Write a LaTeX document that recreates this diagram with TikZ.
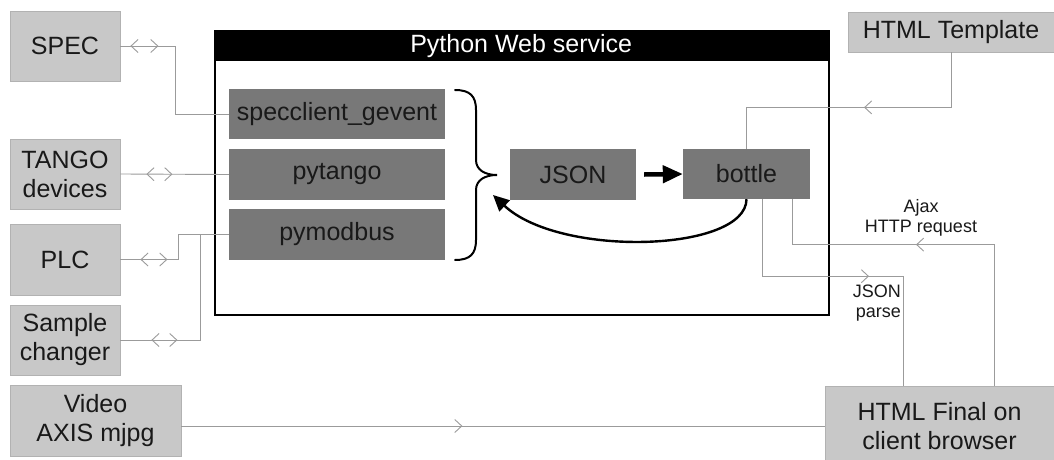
\documentclass[tikz,border=0pt]{standalone}
\usepackage{fontspec}
\setmainfont{Liberation Sans}
\usetikzlibrary{arrows.meta,decorations.markings}
\definecolor{lbox}{RGB}{200,200,200}
\definecolor{lboxedge}{RGB}{178,178,178}
\definecolor{dbox}{RGB}{120,120,120}
\definecolor{connc}{RGB}{155,155,155}
\tikzset{
  lightbox/.style={draw=lboxedge, line width=0.8pt, fill=lbox, align=center, inner sep=0pt,
    font=\fontsize{25}{29}\selectfont, text=black!90},
  darkbox/.style={fill=dbox, align=center, inner sep=0pt,
    font=\fontsize{25}{29}\selectfont, text=black!90},
  conn/.style={draw=connc, line width=0.9pt},
  chev/.tip={Straight Barb[length=7pt,width=13pt,line width=0.9pt]},
  bidi/.style 2 args={postaction={decorate}, decoration={markings,
    mark=at position #1 with {\arrowreversed[connc]{chev}},
    mark=at position #2 with {\arrow[connc]{chev}}}},
  fwd/.style={postaction={decorate}, decoration={markings,
    mark=at position #1 with {\arrow[connc]{chev}}}},
  smalllabel/.style={font=\fontsize{18}{20}\selectfont, inner sep=0pt, text=black!90},
}
\begin{document}
\begin{tikzpicture}[x=1pt,y=-1pt]
\useasboundingbox[fill=white] (0,0) rectangle (1054,460);

% outer devices
\node[lightbox, minimum width=110pt, minimum height=70pt] (spec) at (65,46) {SPEC};
\node[lightbox, minimum width=110pt, minimum height=70pt] (tango) at (65,174) {TANGO\\devices};
\node[lightbox, minimum width=110pt, minimum height=71pt] (plc) at (65,259.5) {PLC};
\node[lightbox, minimum width=110pt, minimum height=70pt] (sample) at (65,340) {Sample\\changer};
\node[lightbox, minimum width=171pt, minimum height=71pt] (video) at (95.5,420.5) {Video\\AXIS mjpg};
\node[lightbox, minimum width=206pt, minimum height=40pt] (tmpl) at (951,32) {HTML Template};
\node[lightbox, minimum width=229pt, minimum height=80pt] (final) at (939.5,426) {HTML Final on\\client browser};

% web service frame
\node[draw=black, line width=2pt, minimum width=614pt, minimum height=284pt, anchor=north west, inner sep=0pt] (frame) at (214,30) {};
\node[fill=black, text=white, minimum width=614pt, minimum height=31pt, anchor=north west, inner sep=0pt,
  font=\fontsize{25}{29}\selectfont] (hdr) at (214,30) {Python Web service};

% inner modules
\node[darkbox, minimum width=216pt, minimum height=50pt] (sg) at (337,114) {specclient\_gevent};
\node[darkbox, minimum width=216pt, minimum height=51pt] (pt) at (337,174.5) {pytango};
\node[darkbox, minimum width=216pt, minimum height=51pt] (pm) at (337,234.5) {pymodbus};
\node[darkbox, minimum width=126pt, minimum height=51pt] (json) at (573,174.5) {JSON};
\node[darkbox, minimum width=127pt, minimum height=50pt] (bottle) at (746.5,174) {bottle};

% brace
\draw[line width=2pt, line cap=round] (455,90) .. controls (470,90) and (476,96) .. (476,110)
  -- (476,160) .. controls (476,170) and (485,175) .. (497,175)
  .. controls (485,175) and (476,180) .. (476,190)
  -- (476,240) .. controls (476,254) and (470,260) .. (455,260);

% internal arrows
\draw[line width=4.5pt, -{Triangle[length=20pt,width=17pt]}] ([xshift=8pt]json.east) -- (bottle.west);
\draw[line width=2.4pt, -{Triangle[length=16pt,width=15pt]}] (bottle.south)
  .. controls (746,252) and (560,258) .. (493,195);

% connectors to outside devices
\draw[conn, bidi={10pt}{38pt}] (spec.east) -- ++(55,0) |- (sg.west);
\draw[conn, bidi={26pt}{52pt}] (tango.east) -- (pt.west);
\draw[conn, bidi={20pt}{47pt}] (plc.east) -- ++(58,0) |- (pm.west);
\draw[conn, bidi={31pt}{57pt}] (sample.east) -- ++(80,0) |- (pm.west);
\draw[conn, fwd=281pt] (video.east |- final.west) -- (final.west);

% web connectors
\draw[conn, fwd=142pt] (tmpl.south) -- ++(0,55) -| (bottle.north);
\draw[conn, fwd=219pt] ([xshift=54.5pt]final.north) -- ++(0,-141) -| ([xshift=45.5pt]bottle.south);
\draw[conn, fwd=184pt] ([xshift=15.5pt]bottle.south) -- ++(0,77) -| ([xshift=-36.5pt]final.north);

% labels
\node[smalllabel, align=center] (ajax) at (921,218) {Ajax\\HTTP request};
\node[smalllabel, align=right, anchor=east] (jparse) at (901,303) {JSON\\parse};
\end{tikzpicture}
\end{document}
